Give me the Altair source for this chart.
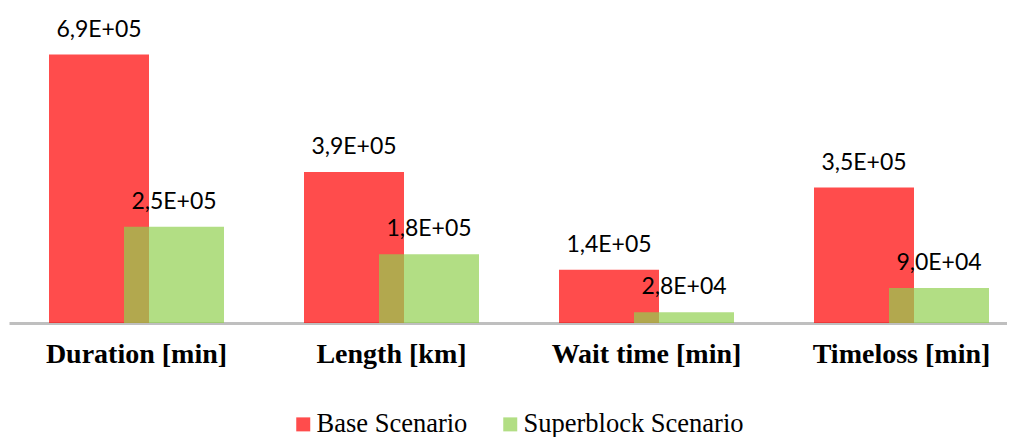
import altair as alt
import pandas as pd

categories = ["Duration [min]", "Length [km]", "Wait time [min]", "Timeloss [min]"]
series = ["Base Scenario", "Superblock Scenario"]
base_values = [686000, 386000, 136000, 346000]
superblock_values = [246000, 176000, 27600, 89600]
colors = ["#FF0000", "#92D050"]


def fmt(v):
    return f"{v:.1E}".replace(".", ",")


rows = []
for c, b, s in zip(categories, base_values, superblock_values):
    rows.append({"category": c, "series": series[0], "value": b, "label": fmt(b)})
    rows.append({"category": c, "series": series[1], "value": s, "label": fmt(s)})
df = pd.DataFrame(rows)

x = alt.X(
    "category:N",
    sort=categories,
    scale=alt.Scale(range=[0, 1020], paddingInner=0, paddingOuter=0),
    axis=alt.Axis(
        title=None,
        labelAngle=0,
        ticks=False,
        grid=False,
        domainColor="#BFBFBF",
        domainWidth=3,
        labelFont="Liberation Serif",
        labelFontWeight="bold",
        labelFontSize=28,
        labelColor="black",
        labelPadding=39,
        labelBaseline="alphabetic",
        labelLimit=400,
    ),
)
y = alt.Y("value:Q", scale=alt.Scale(domain=[0, 805000], nice=False), axis=None)
color = alt.Color(
    "series:N",
    scale=alt.Scale(domain=series, range=colors),
    legend=alt.Legend(
        title=None,
        orient="none",
        legendX=281,
        legendY=403,
        direction="horizontal",
        symbolType="square",
        symbolSize=196,
        symbolOpacity=0.7,
        symbolStrokeWidth=0,
        labelOffset=0,
        columnPadding=29,
    ),
)

base = alt.Chart(df)
is_base = alt.datum.series == series[0]
is_sup = alt.datum.series == series[1]

bars_base = base.transform_filter(is_base).mark_bar(width=100, xOffset=-37.5, opacity=0.7).encode(x=x, y=y, color=color)
bars_sup = base.transform_filter(is_sup).mark_bar(width=100, xOffset=37.5, opacity=0.7).encode(x=x, y=y, color=color)
text_base = base.transform_filter(is_base).mark_text(
    font="Lato", fontSize=23, baseline="alphabetic", dy=-18, xOffset=-37.5, color="black"
).encode(x=x, y=y, text="label:N")
text_sup = base.transform_filter(is_sup).mark_text(
    font="Lato", fontSize=23, baseline="alphabetic", dy=-18, xOffset=37.5, color="black"
).encode(x=x, y=y, text="label:N")

chart = (
    alt.layer(bars_base, bars_sup, text_base, text_sup)
    .properties(
        width=998,
        height=315,
        autosize=alt.AutoSizeParams(type="none"),
        padding={"left": 1, "top": 0, "right": 0, "bottom": 114},
    )
    .configure_view(stroke=None)
    .configure_legend(labelFont="Liberation Serif", labelFontSize=26.5, labelLimit=500, labelColor="black")
)

chart.save("out.html", embed_options={"renderer": "svg", "actions": False})
